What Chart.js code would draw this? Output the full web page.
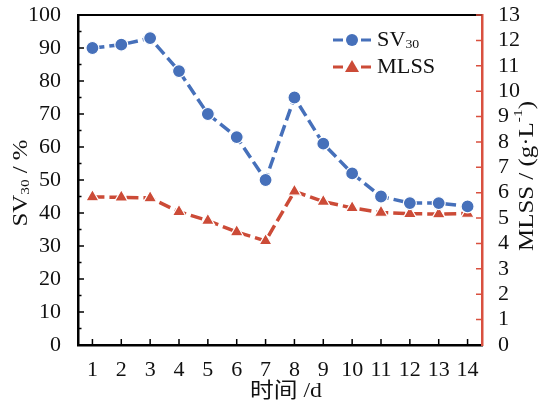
<!DOCTYPE html>
<html>
<head>
<meta charset="utf-8">
<script src="https://cdn.jsdelivr.net/npm/chart.js@4.4.1/dist/chart.umd.min.js"></script>
<style>
  html, body { margin: 0; padding: 0; background: #fff; }
  #wrap { width: 555px; height: 406px; }
</style>
</head>
<body>
<div id="wrap"><canvas id="myChart"></canvas></div>
<script>
const days = ['1', '2', '3', '4', '5', '6', '7', '8', '9', '10', '11', '12', '13', '14'];
const sv30 = [90, 91, 93, 83, 70, 63, 50, 75, 61, 52, 45, 43, 43, 42];
const mlss = [5.83, 5.82, 5.79, 5.25, 4.9, 4.45, 4.1, 6.05, 5.65, 5.4, 5.22, 5.17, 5.16, 5.18];
const leftTicks = [0, 10, 20, 30, 40, 50, 60, 70, 80, 90, 100];
const rightTicks = [0, 1, 2, 3, 4, 5, 6, 7, 8, 9, 10, 11, 12, 13];

const BLUE = '#4670BA';
const RED = '#CC4B37';
const AXIS_RED = '#D9503F';
const FONT = '"Liberation Serif", "Noto Sans CJK SC", serif';

// draw text with sub/superscript parts, returns width
function richText(ctx, parts, x, y, size, measureOnly) {
    let w = 0;
    for (const p of parts) {
        const s = p.sub || p.sup ? size * 0.62 : size;
        ctx.font = s + 'px ' + FONT;
        const dy = p.sub ? size * 0.22 : (p.sup ? -size * 0.38 : 0);
        if (!measureOnly) ctx.fillText(p.t, x + w, y + dy);
        w += ctx.measureText(p.t).width;
    }
    return w;
}

// centered rich text, stretched along its direction to a given length
function titleText(ctx, parts, cx, cy, size, len, rotate) {
    const w = richText(ctx, parts, 0, 0, size, true);
    ctx.save();
    ctx.translate(cx, cy);
    if (rotate) ctx.rotate(-Math.PI / 2);
    ctx.scale(len / w, 1);
    richText(ctx, parts, -w / 2, 0, size);
    ctx.restore();
}

const decorPlugin = {
    id: 'decor',
    afterDraw(chart) {
        const ctx = chart.ctx;
        const a = chart.chartArea;
        const x = chart.scales.x, y = chart.scales.y, y2 = chart.scales.y2;
        ctx.save();

        // top frame line
        ctx.strokeStyle = '#000';
        ctx.lineWidth = 2;
        ctx.beginPath();
        ctx.moveTo(a.left - 1, a.top);
        ctx.lineTo(a.right, a.top);
        ctx.stroke();

        // inward ticks, left axis (major + minor)
        ctx.lineWidth = 1.5;
        ctx.beginPath();
        for (let v = 5; v < 100; v += 5) {
            const py = y.getPixelForValue(v);
            const len = v % 10 === 0 ? 6 : 3.5;
            ctx.moveTo(a.left, py);
            ctx.lineTo(a.left + len, py);
        }
        // x ticks
        days.forEach((d, i) => {
            const px = x.getPixelForValue(i);
            ctx.moveTo(px, a.bottom);
            ctx.lineTo(px, a.bottom - 6);
        });
        ctx.stroke();

        // right axis ticks
        ctx.strokeStyle = AXIS_RED;
        ctx.beginPath();
        rightTicks.forEach(v => {
            if (v === 0) return;
            const py = y2.getPixelForValue(v);
            ctx.moveTo(a.right, py);
            ctx.lineTo(a.right - 6, py);
        });
        ctx.stroke();

        // axis titles
        ctx.fillStyle = '#111';
        ctx.textBaseline = 'middle';
        ctx.textAlign = 'left';

        titleText(ctx, [{ t: '时间 /d' }], 286, 391, 21, 72, false);
        titleText(ctx, [{ t: 'SV' }, { t: '30', sub: true }, { t: ' / %' }], 21, 183, 21, 87, true);
        titleText(ctx, [{ t: 'MLSS / (g·L' }, { t: '-1', sup: true }, { t: ')' }], 527, 176, 21, 150, true);

        // legend
        const rows = [
            { color: BLUE, style: 'circle', y: 40, parts: [{ t: 'SV' }, { t: '30', sub: true }] },
            { color: RED, style: 'triangle', y: 67, parts: [{ t: 'MLSS' }] }
        ];
        rows.forEach(r => {
            ctx.strokeStyle = r.color;
            ctx.fillStyle = r.color;
            ctx.lineWidth = 3;
            ctx.beginPath();
            ctx.moveTo(333, r.y); ctx.lineTo(343, r.y);
            ctx.moveTo(361, r.y); ctx.lineTo(371, r.y);
            ctx.stroke();
            ctx.beginPath();
            if (r.style === 'circle') {
                ctx.arc(352, r.y, 6, 0, Math.PI * 2);
            } else {
                ctx.moveTo(352, r.y - 7);
                ctx.lineTo(359, r.y + 5);
                ctx.lineTo(345, r.y + 5);
                ctx.closePath();
            }
            ctx.fill();
            ctx.fillStyle = '#111';
            ctx.save();
            ctx.translate(377, r.y);
            ctx.scale(1.06, 1);
            richText(ctx, r.parts, 0, 0, 21);
            ctx.restore();
        });

        ctx.restore();
    }
};

const data = {
    labels: days,
    datasets: [
        {
            label: 'SV30',
            data: sv30,
            yAxisID: 'y',
            borderColor: BLUE,
            backgroundColor: BLUE,
            borderWidth: 3.5,
            borderDash: [12, 5],
            pointStyle: 'circle',
            pointRadius: 6.5,
            pointBorderColor: '#fff',
            pointBorderWidth: 1.2,
            tension: 0
        },
        {
            label: 'MLSS',
            data: mlss,
            yAxisID: 'y2',
            borderColor: RED,
            backgroundColor: RED,
            borderWidth: 3.5,
            borderDash: [12, 5],
            pointStyle: 'triangle',
            pointRadius: 7.5,
            pointBorderColor: '#fff',
            pointBorderWidth: 1.2,
            tension: 0
        }
    ]
};

const tickFont = { family: FONT, size: 22 };

const config = {
    type: 'line',
    data,
    options: {
        responsive: true,
        maintainAspectRatio: false,
        animation: false,
        layout: { padding: { top: 15, left: 0, right: 0, bottom: 0 } },
        plugins: {
            legend: { display: false },
            tooltip: { enabled: false }
        },
        scales: {
            x: {
                type: 'category',
                offset: true,
                grid: { display: false },
                border: { display: true, color: '#000', width: 2.5 },
                ticks: { color: '#111', font: tickFont, padding: 4, maxRotation: 0, autoSkip: false },
                afterFit(s) { s.height = 61; s.paddingLeft = 0; s.paddingRight = 0; }
            },
            y: {
                position: 'left',
                min: 0,
                max: 100,
                grid: { display: false },
                border: { display: true, color: '#000', width: 2.5 },
                afterBuildTicks(s) { s.ticks = leftTicks.map(v => ({ value: v })); },
                ticks: { color: '#111', font: tickFont, padding: 9, autoSkip: false },
                afterFit(s) { s.width = 78; s.paddingTop = 0; s.paddingBottom = 0; }
            },
            y2: {
                position: 'right',
                min: 0,
                max: 13,
                grid: { display: false },
                border: { display: true, color: AXIS_RED, width: 2.5 },
                afterBuildTicks(s) { s.ticks = rightTicks.map(v => ({ value: v })); },
                ticks: { color: '#111', font: tickFont, padding: 8, autoSkip: false },
                afterFit(s) { s.width = 73; s.paddingTop = 0; s.paddingBottom = 0; }
            }
        }
    },
    plugins: [decorPlugin]
};

const myChart = new Chart(document.getElementById('myChart'), config);
</script>
</body>
</html>
